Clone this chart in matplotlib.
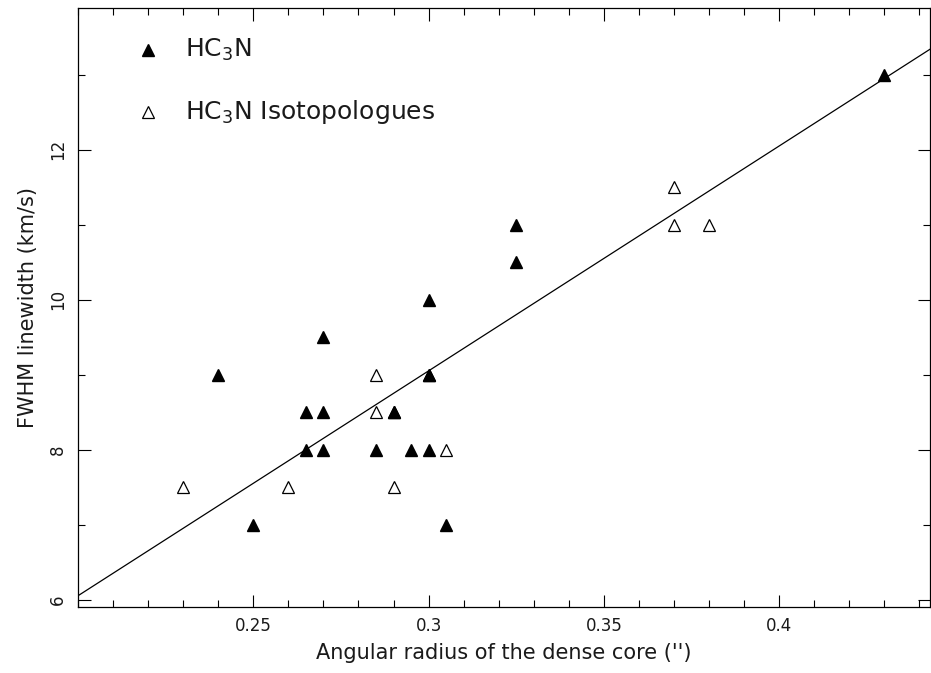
import matplotlib
matplotlib.use("Agg")
import matplotlib.pyplot as plt
import numpy as np
from matplotlib.ticker import MultipleLocator

# HC3N (relleno)
radio_hc3n = [0.24, 0.25, 0.265, 0.265, 0.27, 0.27, 0.27, 0.285, 0.29, 0.29,
              0.295, 0.30, 0.30, 0.30, 0.30, 0.305, 0.325, 0.325, 0.43]
fwhm_hc3n = [9.0, 7.0, 8.5, 8.0, 9.5, 8.5, 8.0, 8.0, 8.5, 8.5,
             8.0, 10.0, 9.0, 9.0, 8.0, 7.0, 11.0, 10.5, 13.0]

# isotopologos (vacío)
radio_iso = [0.23, 0.26, 0.285, 0.285, 0.29, 0.305, 0.37, 0.37, 0.38]
fwhm_iso = [7.5, 7.5, 9.0, 8.5, 7.5, 8.0, 11.5, 11.0, 11.0]

# ajuste lineal
pendiente = 30.0
ordenada = 0.05

color_texto = '#1a1a1a'

fig = plt.figure(figsize=(9.31, 6.73), dpi=100)
ax = fig.add_axes([78 / 931, 1 - 607 / 673, 852 / 931, 599 / 673])

xmin, xmax = 0.2, 0.443
ymin, ymax = 5.9, 13.89
xs = np.array([xmin, xmax])
ax.plot(xs, pendiente * xs + ordenada, color='black', lw=0.9)

ax.plot(radio_hc3n, fwhm_hc3n, linestyle='none', marker='^', ms=9,
        color='black', mec='black')
ax.plot(radio_iso, fwhm_iso, linestyle='none', marker='^', ms=9,
        mfc='white', mec='black', mew=0.9)

ax.set_xlim(xmin, xmax)
ax.set_ylim(ymin, ymax)

ax.xaxis.set_major_locator(MultipleLocator(0.05))
ax.xaxis.set_minor_locator(MultipleLocator(0.01))
ax.yaxis.set_major_locator(MultipleLocator(2))
ax.yaxis.set_minor_locator(MultipleLocator(1))
ax.set_xticks([0.25, 0.3, 0.35, 0.4])
ax.set_xticklabels(['0.25', '0.3', '0.35', '0.4'])
ax.set_yticks([6, 8, 10, 12])
ax.set_yticklabels(['6', '8', '10', '12'], rotation=90, va='center')

ax.tick_params(which='both', direction='in', top=True, right=True,
               width=0.8, labelsize=12, color='black', labelcolor=color_texto)
ax.tick_params(which='major', length=9, pad=7)
ax.tick_params(which='minor', length=5)
ax.tick_params(axis='y', pad=8)
for s in ax.spines.values():
    s.set_linewidth(0.9)

ax.set_xlabel("Angular radius of the dense core ('')", fontsize=15,
              labelpad=6, color=color_texto)
ax.set_ylabel("FWHM linewidth (km/s)", fontsize=15, labelpad=8,
              color=color_texto)

# leyenda manual
ax.plot([0.082], [0.93], transform=ax.transAxes, marker='^', ms=8,
        color='black', linestyle='none')
ax.plot([0.082], [0.826], transform=ax.transAxes, marker='^', ms=8,
        mfc='white', mec='black', mew=0.9, linestyle='none')
ax.text(0.126, 0.93, 'HC$_3$N', transform=ax.transAxes, fontsize=18,
        va='center', ha='left', color=color_texto)
ax.text(0.126, 0.826, 'HC$_3$N Isotopologues', transform=ax.transAxes,
        fontsize=18, va='center', ha='left', color=color_texto)

plt.savefig('out.png', dpi=100)
